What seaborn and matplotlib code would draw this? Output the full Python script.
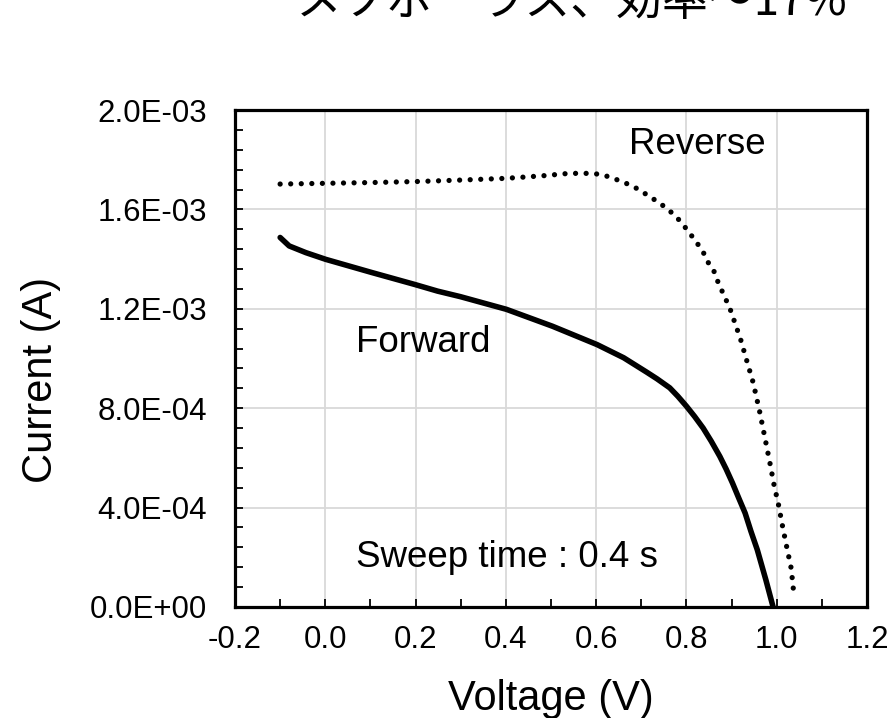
import matplotlib
matplotlib.use("Agg")
import matplotlib.pyplot as plt
from matplotlib.ticker import MultipleLocator, FuncFormatter
import pandas as pd
import seaborn as sns

# J-V sweep of a mesoporous perovskite cell (current in A)
forward_v = [-0.100, -0.080, -0.043, 0.001, 0.103, 0.198, 0.249, 0.299, 0.401,
             0.503, 0.602, 0.661, 0.712, 0.735, 0.763, 0.781, 0.800, 0.818,
             0.837, 0.855, 0.874, 0.888, 0.902, 0.916, 0.930, 0.943, 0.957,
             0.976, 0.992]
forward_i = [1.487e-3, 1.453e-3, 1.426e-3, 1.399e-3, 1.346e-3, 1.298e-3, 1.271e-3,
             1.249e-3, 1.198e-3, 1.130e-3, 1.056e-3, 1.003e-3, 0.945e-3, 0.918e-3,
             0.882e-3, 0.848e-3, 0.808e-3, 0.767e-3, 0.720e-3, 0.667e-3, 0.606e-3,
             0.555e-3, 0.499e-3, 0.438e-3, 0.378e-3, 0.304e-3, 0.230e-3, 0.109e-3,
             0.000e-3]

reverse_v = [-0.100, 0.000, 0.100, 0.200, 0.300, 0.400, 0.480, 0.540, 0.593, 0.616,
             0.637, 0.659, 0.680, 0.701, 0.721, 0.744, 0.763, 0.781, 0.795, 0.809,
             0.823, 0.837, 0.846, 0.860, 0.869, 0.879, 0.888, 0.897, 0.920, 0.934,
             0.948, 0.962, 0.971, 0.985, 0.994, 1.004, 1.013, 1.022, 1.032, 1.039]
reverse_i = [1.702e-3, 1.705e-3, 1.708e-3, 1.712e-3, 1.718e-3, 1.725e-3, 1.735e-3,
             1.745e-3, 1.745e-3, 1.738e-3, 1.726e-3, 1.710e-3, 1.695e-3, 1.672e-3,
             1.649e-3, 1.621e-3, 1.594e-3, 1.563e-3, 1.533e-3, 1.500e-3, 1.466e-3,
             1.429e-3, 1.392e-3, 1.356e-3, 1.312e-3, 1.271e-3, 1.235e-3, 1.198e-3,
             1.077e-3, 0.989e-3, 0.902e-3, 0.788e-3, 0.707e-3, 0.579e-3, 0.492e-3,
             0.411e-3, 0.324e-3, 0.243e-3, 0.156e-3, 0.035e-3]

title_text = "メソポーラス、効率〜17%"
x_label = "Voltage (V)"
y_label = "Current (A)"
forward_label = "Forward"
reverse_label = "Reverse"
sweep_label = "Sweep time : 0.4 s"

sns.set_theme(style="white")
plt.rcParams["font.family"] = ["Liberation Sans", "Noto Sans CJK JP", "DejaVu Sans"]
plt.rcParams["text.color"] = "black"
plt.rcParams["axes.labelcolor"] = "black"
plt.rcParams["xtick.color"] = "black"
plt.rcParams["ytick.color"] = "black"

fig = plt.figure(figsize=(8.88, 7.18), dpi=100)
ax = fig.add_axes([235 / 888, 1 - 607 / 718, 632 / 888, 497 / 718])

fwd = pd.DataFrame({"V": forward_v, "I": forward_i})
rev = pd.DataFrame({"V": reverse_v, "I": reverse_i})

sns.lineplot(data=fwd, x="V", y="I", ax=ax, sort=False, estimator=None,
             color="black", linewidth=4.0, solid_capstyle="round",
             solid_joinstyle="round")
sns.lineplot(data=rev, x="V", y="I", ax=ax, sort=False, estimator=None,
             color="black", linewidth=3.8, linestyle=(0, (0.001, 2.0)),
             dash_capstyle="round")

ax.set_xlim(-0.2, 1.2)
ax.set_ylim(0, 2.0e-3)
ax.xaxis.set_major_locator(MultipleLocator(0.2))
ax.xaxis.set_minor_locator(MultipleLocator(0.1))
ax.yaxis.set_major_locator(MultipleLocator(4e-4))
ax.yaxis.set_minor_locator(MultipleLocator(8e-5))
ax.xaxis.set_major_formatter(FuncFormatter(lambda v, p: f"{v:.1f}"))
ax.yaxis.set_major_formatter(FuncFormatter(lambda v, p: f"{v:.1E}"))

ax.grid(True, which="major", color="#d9d9d9", linewidth=1.3)
ax.set_axisbelow(True)
for s in ax.spines.values():
    s.set_color("black")
    s.set_linewidth(2.3)
    s.set_visible(True)

ax.tick_params(axis="both", which="both", direction="in", length=5.5,
               width=1.3, color="black", left=True, bottom=True,
               top=False, right=False)
ax.tick_params(axis="x", which="major", labelsize=22.5, pad=13, labelcolor="black")
ax.tick_params(axis="y", which="major", labelsize=22.5, pad=20, labelcolor="black")

ax.set_xlabel(x_label, fontsize=30, color="black")
ax.set_ylabel(y_label, fontsize=30, color="black")
ax.xaxis.set_label_coords(0.5, -0.145)
ax.yaxis.set_label_coords(-0.275, 0.457)

ax.text(0.068, 1.025e-3, forward_label, fontsize=26.5, ha="left", va="baseline",
        color="black")
ax.text(0.673, 1.823e-3, reverse_label, fontsize=26.5, ha="left", va="baseline",
        color="black")
ax.text(0.068, 1.625e-4, sweep_label, fontsize=26.5, ha="left", va="baseline",
        color="black")

fig.text(572 / 888, 1 - 15 / 718, title_text, fontsize=33, ha="center",
         va="baseline", color="black",
         family=["Noto Sans CJK JP", "DejaVu Sans"])

fig.savefig("out.png", dpi=100)
